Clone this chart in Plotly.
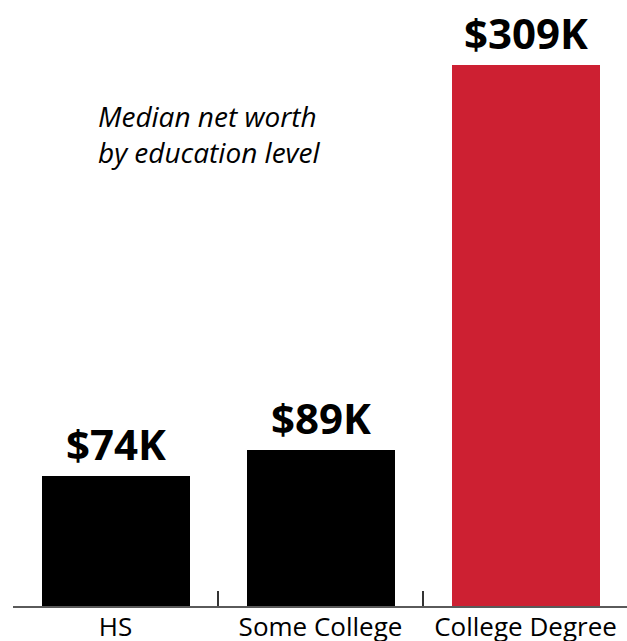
import plotly.graph_objects as go

categories = ["HS", "Some College", "College Degree"]
values = [74, 89, 309]
value_labels = ["$74K", "$89K", "$309K"]
bar_colors = ["#000000", "#000000", "#CD2032"]
title_lines = ["Median net worth", "by education level"]

FONT = "Open Sans"

fig = go.Figure()
fig.add_trace(go.Bar(
    x=categories, y=values,
    marker=dict(color=bar_colors, line=dict(width=0)),
    width=0.722,
    hoverinfo="skip",
))

for c, v, t in zip(categories, values, value_labels):
    fig.add_annotation(
        x=c, y=v, text=t, showarrow=False,
        xanchor="center", yanchor="bottom", yshift=2,
        font=dict(family=FONT, size=42, color="#000000", weight="bold"),
    )

fig.add_annotation(
    xref="paper", yref="paper", x=(96 - 13) / 614, y=1 - 95 / 606,
    xanchor="left", yanchor="top", align="left", showarrow=False,
    text="<i>" + "<br>".join(title_lines) + "</i>",
    font=dict(family=FONT, size=28, color="#000000"),
)

fig.update_layout(
    width=627, height=641,
    margin=dict(l=13, r=0, t=0, b=35, autoexpand=False),
    plot_bgcolor="white", paper_bgcolor="white",
    showlegend=False,
    bargap=0,
    xaxis=dict(
        type="category",
        range=[-0.5, 2.495],
        automargin=False,
        showline=True, linecolor="#5a5a5a", linewidth=2,
        ticks="inside", tickson="boundaries", ticklen=15,
        tickcolor="#333333", tickwidth=1.5,
        showgrid=False, zeroline=False,
        ticklabelstandoff=-3,
        tickfont=dict(family=FONT, size=26, color="#000000"),
        fixedrange=True,
    ),
    yaxis=dict(
        range=[0, 606 / (541.5 / 309)],
        visible=False, showgrid=False, zeroline=False,
        automargin=False,
        fixedrange=True,
    ),
)

fig.write_html("out.html")
